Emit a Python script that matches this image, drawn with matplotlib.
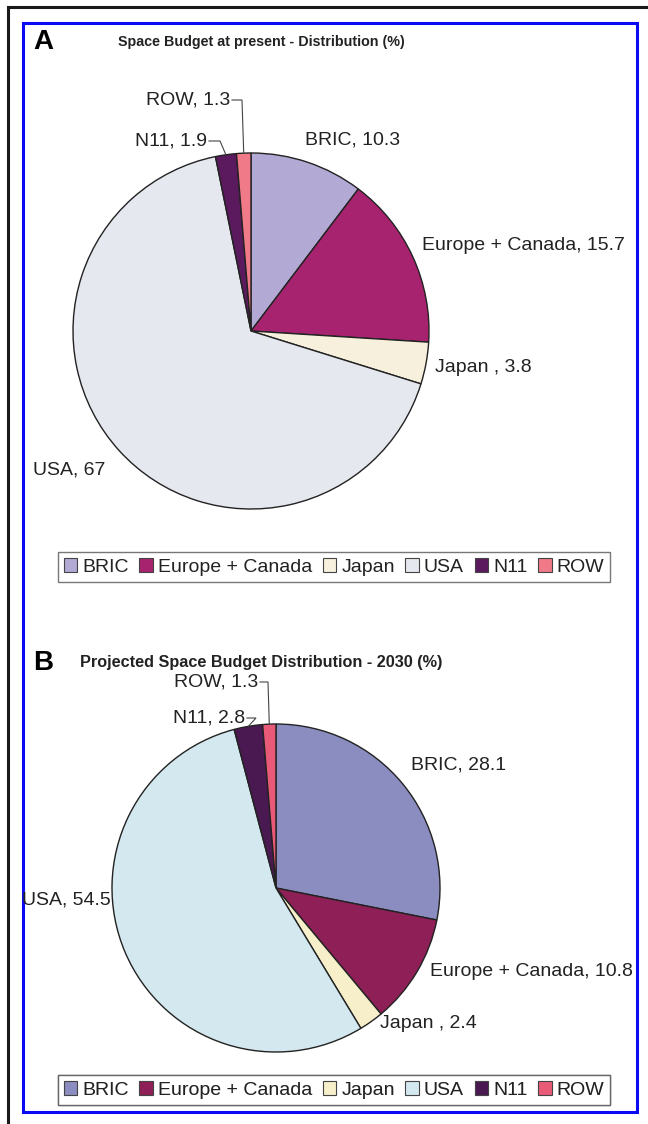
import matplotlib
matplotlib.use("Agg")
import matplotlib.pyplot as plt
from matplotlib.patches import Patch, Rectangle
import numpy as np

plt.rcParams["font.family"] = ["Liberation Sans", "DejaVu Sans"]

W, H = 648, 1124

regions = ["BRIC", "Europe + Canada", "Japan", "USA", "N11", "ROW"]
label_names = ["BRIC", "Europe + Canada", "Japan ", "USA", "N11", "ROW"]
share_now = [10.3, 15.7, 3.8, 67, 1.9, 1.3]
share_2030 = [28.1, 10.8, 2.4, 54.5, 2.8, 1.3]

colors_now = ["#b2a9d4", "#a8236f", "#f6f0dc", "#e5e8ee", "#5b1a5e", "#f07a88"]
colors_2030 = ["#8b8dc1", "#8e1f57", "#f6efc9", "#d3e8ef", "#4b1951", "#e95a79"]

INK = "#222222"
LABEL_SIZE = 14


def fmt(v):
    return f"{v:g}"


def y(px):
    # pixel rows counted from the top
    return H - px


def draw_panel(ax, values, colors, cx, cy, r, spots, leaders):
    ax.pie(values, colors=colors, startangle=90, counterclock=False,
           center=(cx, y(cy)), radius=r,
           wedgeprops=dict(edgecolor=INK, linewidth=1.0))
    cum = np.cumsum([0] + list(values))
    total = cum[-1]
    for i, name in enumerate(label_names):
        text = f"{name}, {fmt(values[i])}"
        if i in leaders:
            tx, ty, hx = leaders[i]
            mid = 90 - 360 * (cum[i] + values[i] / 2) / total
            px = cx + r * np.cos(np.radians(mid))
            py = y(cy) + r * np.sin(np.radians(mid))
            ax.plot([tx + 2, hx, px], [y(ty), y(ty), py], color="#444444",
                    lw=0.8, solid_joinstyle="miter")
            ax.text(tx, y(ty), text, ha="right", va="center",
                    fontsize=LABEL_SIZE, color=INK)
        else:
            tx, ty = spots[i]
            ax.text(tx, y(ty), text, ha="left", va="center",
                    fontsize=LABEL_SIZE, color=INK)


def draw_legend(ax, colors, cx, cy):
    handles = [Patch(facecolor=c, edgecolor="#444444", linewidth=0.8)
               for c in colors]
    leg = ax.legend(handles, regions, ncol=6, loc="center",
                    bbox_to_anchor=(cx, y(cy)), bbox_transform=ax.transData,
                    fontsize=LABEL_SIZE, handlelength=0.7, handleheight=0.7,
                    handletextpad=0.25, columnspacing=0.55, borderpad=0.3,
                    borderaxespad=0, fancybox=False, frameon=True,
                    edgecolor="#555555", labelcolor=INK)
    leg.get_frame().set_linewidth(1.0)
    ax.add_artist(leg)


fig = plt.figure(figsize=(W / 100, H / 100), dpi=100)
ax = fig.add_axes([0, 0, 1, 1])

draw_panel(ax, share_now, colors_now, 251, 331, 178,
           spots={0: (305, 140), 1: (422, 245), 2: (435, 368), 3: (33, 470)},
           leaders={5: (230, 100, 242), 4: (207, 141, 220)})
draw_panel(ax, share_2030, colors_2030, 276, 888, 164,
           spots={0: (411, 765), 1: (430, 972), 2: (380, 1024), 3: (22, 900)},
           leaders={5: (258, 682, 268), 4: (245, 718, 256)})

draw_legend(ax, colors_now, 334, 567)
draw_legend(ax, colors_2030, 334, 1090)

ax.text(33, y(42), "A", fontsize=20, fontweight="bold", ha="left",
        va="center", color="black")
ax.text(118, y(42), "Space Budget at present - Distribution (%)",
        fontsize=10.3, fontweight="bold", ha="left", va="center", color=INK)
ax.text(33, y(663), "B", fontsize=20, fontweight="bold", ha="left",
        va="center", color="black")
ax.text(80, y(663), "Projected Space Budget Distribution - 2030 (%)",
        fontsize=11.7, fontweight="bold", ha="left", va="center", color=INK)

# outer page frame and blue panel frame
ax.plot([8, 8, W], [0, y(7), y(7)], color="#1a1a1a", lw=2.2,
        solid_joinstyle="miter")
ax.add_patch(Rectangle((23, y(1112)), 637 - 23, 1112 - 23, fill=False,
                       edgecolor="#0a0af5", lw=2.2))

ax.set_xlim(0, W)
ax.set_ylim(0, H)
ax.axis("off")

fig.savefig("out.png", dpi=100)
